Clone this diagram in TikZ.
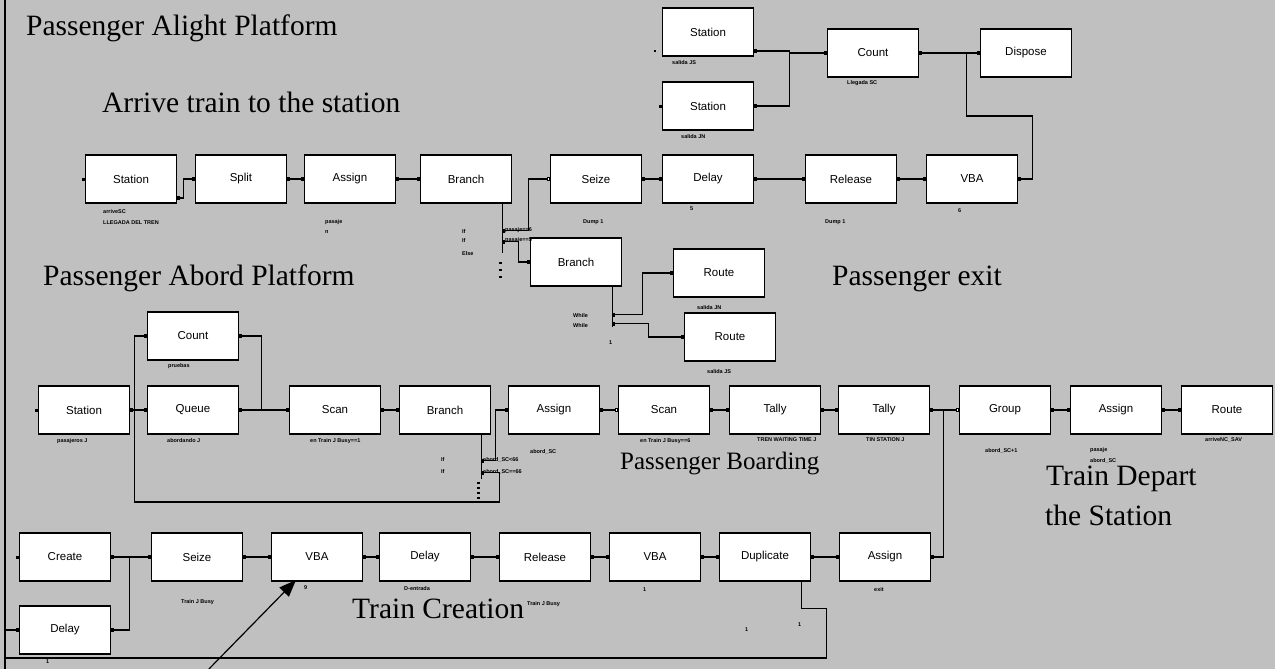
\documentclass[tikz,border=0pt]{standalone}
\usepackage{fontspec}
\setmainfont{Liberation Serif}
\newfontfamily\blockfont{Liberation Sans}
\usepackage{tikz}
\usetikzlibrary{arrows.meta}
\definecolor{panel}{HTML}{C0C0C0}

\begin{document}
\begin{tikzpicture}[
        x=1pt, y=-1pt,
        block/.style={draw, line width=1.5pt, fill=white, minimum width=91pt, minimum height=48pt, inner sep=0pt, font=\blockfont\fontsize{11.5}{13}\selectfont},
        wire/.style={line width=1.2pt},
        tag/.style={anchor=west, inner sep=0pt, font=\blockfont\bfseries\fontsize{5.5}{6}\selectfont},
        title/.style={anchor=base west, inner sep=0pt, font=\fontsize{29.5}{32}\selectfont},
        port/.tip={Square[length=3pt,width=4pt]},
        oport/.tip={Square[length=3pt,width=4pt,fill=white]}
    ]

    \useasboundingbox (0,0) rectangle (1275,669);
    \fill[panel] (0,0) rectangle (1275,669);
    \draw[line width=1.2pt] (5,0) -- (5,669);

    % Titles
    \node[title] (tAlight) at (26,36) {Passenger Alight Platform};
    \node[title] (tArrive) at (102,112) {Arrive train to the station};
    \node[title] (tAbord) at (43,285) {Passenger Abord Platform};
    \node[title] (tExit) at (832,285) {Passenger exit};
    \node[title, font=\fontsize{25}{28}\selectfont] (tBoard) at (620,469) {Passenger Boarding};
    \node[title] (tDepart) at (1046,485) {Train Depart};
    \node[title] (tDepart2) at (1045,525) {the Station};
    \node[title] (tCreate) at (352,618) {Train Creation};

    % Passenger alight: arrival row
    \node[block] (st1) at (131,179) {Station};
    \node[block] (split) at (241,179) {Split};
    \node[block] (asg1) at (350,179) {Assign};
    \node[block] (br1) at (466,179) {Branch};
    \node[block] (sz1) at (596,179) {Seize};
    \node[block] (dl1) at (708,179) {Delay};
    \node[block] (rel1) at (851,179) {Release};
    \node[block] (vba1) at (972,179) {VBA};

    % Passenger alight: exit stations
    \node[block] (stA) at (708,32) {Station};
    \node[block] (stB) at (708,106) {Station};
    \node[block] (cnt1) at (873,53) {Count};
    \node[block] (disp) at (1026,53) {Dispose};
    \node[block] (br2) at (576,262) {Branch};
    \node[block] (rt1) at (719,273) {Route};
    \node[block] (rt2) at (730,337) {Route};

    % Passenger abord row
    \node[block] (st2) at (84,410) {Station};
    \node[block] (cnt2) at (193,336) {Count};
    \node[block] (que) at (193,410) {Queue};
    \node[block] (scan1) at (335,410) {Scan};
    \node[block] (br3) at (445,410) {Branch};
    \node[block] (asg2) at (554,410) {Assign};
    \node[block] (scan2) at (664,410) {Scan};
    \node[block] (tly1) at (775,410) {Tally};
    \node[block] (tly2) at (884,410) {Tally};
    \node[block] (grp) at (1005,410) {Group};
    \node[block] (asg3) at (1116,410) {Assign};
    \node[block] (rt3) at (1227,410) {Route};

    % Train creation row
    \node[block] (crt) at (65,557) {Create};
    \node[block] (dl2) at (65,630) {Delay};
    \node[block] (sz2) at (197,557) {Seize};
    \node[block] (vba2) at (317,557) {VBA};
    \node[block] (dl3) at (425,557) {Delay};
    \node[block] (rel2) at (545,557) {Release};
    \node[block] (vba3) at (655,557) {VBA};
    \node[block] (dup) at (765,557) {Duplicate};
    \node[block] (asg4) at (885,557) {Assign};

    % Small labels
    \node[tag] (lSt1a) at (103,212) {arriveSC};
    \node[tag] (lSt1b) at (103,223) {LLEGADA DEL TREN};
    \node[tag] (lAsg1a) at (325,222) {pasaje};
    \node[tag] (lAsg1b) at (325,232) {n};
    \node[tag] (lSz1) at (583,222) {Dump 1};
    \node[tag] (lDl1) at (690,209) {5};
    \node[tag] (lRel1) at (825,222) {Dump 1};
    \node[tag] (lVba1) at (958,211) {6};
    \node[tag] (lStA) at (672,63) {salida JS};
    \node[tag] (lCnt1) at (847,83) {Llegada SC};
    \node[tag] (lStB) at (681,137) {salida JN};
    \node[tag] (lBr1a) at (462,232) {If};
    \node[tag] (lBr1b) at (462,241) {If};
    \node[tag] (lBr1c) at (462,254) {Else};
    \node[tag] (lBr1d) at (505,230) {pasaje==6};
    \node[tag] (lBr1e) at (505,240) {pasaje==5};
    \node[tag] (lBr2a) at (573,316) {While};
    \node[tag] (lBr2b) at (573,326) {While};
    \node[tag] (lBr2c) at (609,343) {1};
    \node[tag] (lRt1) at (697,308) {salida JN};
    \node[tag] (lRt2) at (707,372) {salida JS};
    \node[tag] (lSt2) at (57,441) {pasajeros J};
    \node[tag] (lCnt2) at (168,366) {pruebas};
    \node[tag] (lQue) at (167,441) {abordando J};
    \node[tag] (lScan1) at (310,441) {en Train J Busy==1};
    \node[tag] (lBr3a) at (441,460) {If};
    \node[tag] (lBr3b) at (441,472) {If};
    \node[tag] (lBr3c) at (483,460) {abord\_SC<66};
    \node[tag] (lBr3d) at (483,472) {abord\_SC==66};
    \node[tag] (lAsg2) at (530,452) {abord\_SC};
    \node[tag] (lScan2) at (640,441) {en Train J Busy==6};
    \node[tag] (lTly1) at (757,440) {TREN WAITING TIME J};
    \node[tag] (lTly2) at (866,440) {TIN STATION J};
    \node[tag] (lGrp) at (985,451) {abord\_SC+1};
    \node[tag] (lAsg3a) at (1090,450) {pasaje};
    \node[tag] (lAsg3b) at (1090,461) {abord\_SC};
    \node[tag] (lRt3) at (1205,440) {arriveNC\_SAV};
    \node[tag] (lSz2) at (181,602) {Train J Busy};
    \node[tag] (lVba2) at (304,588) {9};
    \node[tag] (lDl3) at (404,589) {D-entrada};
    \node[tag] (lRel2) at (527,604) {Train J Busy};
    \node[tag] (lVba3) at (643,590) {1};
    \node[tag] (lAsg4) at (874,590) {exit};
    \node[tag] (lDupA) at (745,630) {1};
    \node[tag] (lDupB) at (798,625) {1};
    \node[tag] (lDl2) at (46,662) {1};

    % Junction points
    \coordinate (jc) at ([xshift=-37pt]cnt1.west);
    \coordinate (jd) at ([xshift=-13pt]disp.west);
    \coordinate (b1a) at ([shift={(-10pt,-27pt)}]br1.south east);
    \coordinate (b1b) at ([shift={(-10pt,-38pt)}]br1.south east);
    \coordinate (b2a) at ([shift={(-10pt,-28pt)}]br2.south east);
    \coordinate (b2b) at ([shift={(-10pt,-37pt)}]br2.south east);
    \coordinate (jq) at ([xshift=-12pt]que.west);
    \coordinate (js) at ([xshift=-27pt]scan1.west);
    \coordinate (b3a) at ([shift={(-10pt,-26pt)}]br3.south east);
    \coordinate (b3b) at ([shift={(-10pt,-38pt)}]br3.south east);
    \coordinate (jg) at ([xshift=-15pt]grp.west);
    \coordinate (jz) at ([xshift=-21pt]sz2.west);
    \coordinate (lp) at ([xshift=-13pt]dl2.west);

    % Arrival row wiring
    \draw[wire,port-port] ([yshift=-19pt]st1.east) -- ++(6,0) |- (split.west);
    \draw[wire,port-port] (split.east) -- (asg1.west);
    \draw[wire,port-port] (asg1.east) -- (br1.west);
    \draw[wire] ([xshift=-10pt]br1.south east) -- ++(0,49);
    \draw[wire,port-oport] (b1a) -- ++(26,0) |- (sz1.west);
    \draw[wire,port-port] (b1b) -- ++(16,0) |- (br2.west);
    \draw[wire,port-port] (sz1.east) -- (dl1.west);
    \draw[wire,port-port] (dl1.east) -- (rel1.west);
    \draw[wire,port-port] (rel1.east) -- (vba1.west);
    \draw[wire,port-] (vba1.east) -- ++(14,0) |- ([yshift=-63pt]jd) -- (jd);
    \draw[wire,port-] ([yshift=-19pt]stA.east) -| (jc);
    \draw[wire,port-] (stB.east) -| (jc);
    \draw[wire,-port] (jc) -- (cnt1.west);
    \draw[wire,port-port] (cnt1.east) -- (disp.west);

    % Exit branch
    \draw[wire] ([xshift=-10pt]br2.south east) -- ++(0,40);
    \draw[wire,port-port] (b2a) -- ++(30,0) |- (rt1.west);
    \draw[wire,port-port] (b2b) -- ++(36,0) |- (rt2.west);

    % Abord row wiring
    \draw[wire,port-] (st2.east) -- (jq);
    \draw[wire,-port] (jq) -- (que.west);
    \draw[wire,-port] (jq) |- (cnt2.west);
    \draw[wire,port-] (cnt2.east) -| (js);
    \draw[wire,port-] (que.east) -- (js);
    \draw[wire,-port] (js) -- (scan1.west);
    \draw[wire,port-port] (scan1.east) -- (br3.west);
    \draw[wire] ([xshift=-10pt]br3.south east) -- ++(0,44);
    \draw[wire,port-port] (b3a) -- ++(14,0) |- (asg2.west);
    \draw[wire,port-] (b3b) -- ++(18,0) |- ([yshift=-92pt]jq) -- (jq);
    \draw[wire,port-oport] (asg2.east) -- (scan2.west);
    \draw[wire,port-port] (scan2.east) -- (tly1.west);
    \draw[wire,port-port] (tly1.east) -- (tly2.west);
    \draw[wire,port-] (tly2.east) -- (jg);
    \draw[wire,-oport] (jg) -- (grp.west);
    \draw[wire,port-port] (grp.east) -- (asg3.west);
    \draw[wire,port-port] (asg3.east) -- (rt3.west);

    % Train creation wiring
    \draw[wire,port-] (crt.east) -- (jz);
    \draw[wire,port-] (dl2.east) -| (jz);
    \draw[wire,-port] (jz) -- (sz2.west);
    \draw[wire,port-port] (sz2.east) -- (vba2.west);
    \draw[wire,port-port] (vba2.east) -- (dl3.west);
    \draw[wire,port-port] (dl3.east) -- (rel2.west);
    \draw[wire,port-port] (rel2.east) -- (vba3.west);
    \draw[wire,port-port] (vba3.east) -- (dup.west);
    \draw[wire,port-port] (dup.east) -- (asg4.west);
    \draw[wire,port-] (asg4.east) -| (jg);
    \draw[wire,-port] ([xshift=-10pt]dup.south east) -- ++(0,27) -- ++(25,0) |- ([yshift=-28pt]lp) -- (lp) -- (dl2.west);

    % Unconnected inputs and branch dots
    \foreach \n in {st1,stB,st2,crt}
        \fill ([shift={(-3pt,1.5pt)}]\n.west) rectangle ++(3,3);
    \fill (654,50) rectangle ++(2,2);
    \foreach \k in {0,1,2}
        \fill (499,262+7*\k) rectangle ++(3,2);
    \foreach \k in {0,1,2,3}
        \fill (477,482+5*\k) rectangle ++(3,2);

    % Pointer
    \coordinate (ptail) at (206,672);
    \coordinate (ptip) at (296,580);
    \draw[line width=1.2pt,-{Triangle[length=17pt,width=13pt]}] (ptail) -- (ptip);
\end{tikzpicture}
\end{document}
